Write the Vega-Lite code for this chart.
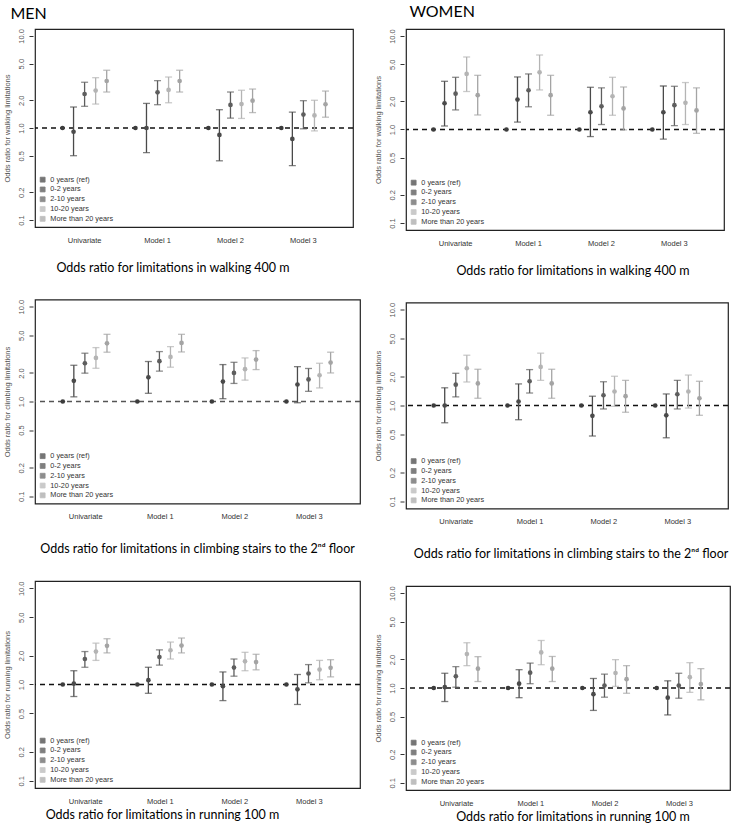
{
  "$schema": "https://vega.github.io/schema/vega-lite/v6.json",
  "padding": {"left": 2, "top": 4, "right": 0, "bottom": 0},
  "datasets": {
    "d": [
      {"s":"Men","o":"walk","m":"Univariate","g":"0 years (ref)","or":1,"lo":null,"hi":null},
      {"s":"Men","o":"walk","m":"Univariate","g":"0-2 years","or":0.91,"lo":0.50,"hi":1.69},
      {"s":"Men","o":"walk","m":"Univariate","g":"2-10 years","or":2.34,"lo":1.72,"hi":3.14},
      {"s":"Men","o":"walk","m":"Univariate","g":"10-20 years","or":2.55,"lo":1.82,"hi":3.52},
      {"s":"Men","o":"walk","m":"Univariate","g":"More than 20 years","or":3.24,"lo":2.46,"hi":4.24},
      {"s":"Men","o":"walk","m":"Model 1","g":"0 years (ref)","or":1,"lo":null,"hi":null},
      {"s":"Men","o":"walk","m":"Model 1","g":"0-2 years","or":1.0,"lo":0.54,"hi":1.85},
      {"s":"Men","o":"walk","m":"Model 1","g":"2-10 years","or":2.44,"lo":1.79,"hi":3.27},
      {"s":"Men","o":"walk","m":"Model 1","g":"10-20 years","or":2.59,"lo":1.88,"hi":3.58},
      {"s":"Men","o":"walk","m":"Model 1","g":"More than 20 years","or":3.24,"lo":2.46,"hi":4.24},
      {"s":"Men","o":"walk","m":"Model 2","g":"0 years (ref)","or":1,"lo":null,"hi":null},
      {"s":"Men","o":"walk","m":"Model 2","g":"0-2 years","or":0.84,"lo":0.44,"hi":1.58},
      {"s":"Men","o":"walk","m":"Model 2","g":"2-10 years","or":1.78,"lo":1.28,"hi":2.46},
      {"s":"Men","o":"walk","m":"Model 2","g":"10-20 years","or":1.82,"lo":1.27,"hi":2.57},
      {"s":"Men","o":"walk","m":"Model 2","g":"More than 20 years","or":1.98,"lo":1.47,"hi":2.65},
      {"s":"Men","o":"walk","m":"Model 3","g":"0 years (ref)","or":1,"lo":null,"hi":null},
      {"s":"Men","o":"walk","m":"Model 3","g":"0-2 years","or":0.76,"lo":0.39,"hi":1.49},
      {"s":"Men","o":"walk","m":"Model 3","g":"2-10 years","or":1.40,"lo":0.98,"hi":1.98},
      {"s":"Men","o":"walk","m":"Model 3","g":"10-20 years","or":1.37,"lo":0.93,"hi":2.0},
      {"s":"Men","o":"walk","m":"Model 3","g":"More than 20 years","or":1.81,"lo":1.31,"hi":2.52},

      {"s":"Women","o":"walk","m":"Univariate","g":"0 years (ref)","or":1,"lo":null,"hi":null},
      {"s":"Women","o":"walk","m":"Univariate","g":"0-2 years","or":1.91,"lo":1.09,"hi":3.28},
      {"s":"Women","o":"walk","m":"Univariate","g":"2-10 years","or":2.42,"lo":1.62,"hi":3.62},
      {"s":"Women","o":"walk","m":"Univariate","g":"10-20 years","or":3.93,"lo":2.55,"hi":5.97},
      {"s":"Women","o":"walk","m":"Univariate","g":"More than 20 years","or":2.33,"lo":1.43,"hi":3.80},
      {"s":"Women","o":"walk","m":"Model 1","g":"0 years (ref)","or":1,"lo":null,"hi":null},
      {"s":"Women","o":"walk","m":"Model 1","g":"0-2 years","or":2.09,"lo":1.20,"hi":3.65},
      {"s":"Women","o":"walk","m":"Model 1","g":"2-10 years","or":2.63,"lo":1.75,"hi":3.93},
      {"s":"Women","o":"walk","m":"Model 1","g":"10-20 years","or":4.09,"lo":2.65,"hi":6.27},
      {"s":"Women","o":"walk","m":"Model 1","g":"More than 20 years","or":2.33,"lo":1.42,"hi":3.80},
      {"s":"Women","o":"walk","m":"Model 2","g":"0 years (ref)","or":1,"lo":null,"hi":null},
      {"s":"Women","o":"walk","m":"Model 2","g":"0-2 years","or":1.53,"lo":0.84,"hi":2.83},
      {"s":"Women","o":"walk","m":"Model 2","g":"2-10 years","or":1.77,"lo":1.13,"hi":2.79},
      {"s":"Women","o":"walk","m":"Model 2","g":"10-20 years","or":2.27,"lo":1.42,"hi":3.62},
      {"s":"Women","o":"walk","m":"Model 2","g":"More than 20 years","or":1.68,"lo":0.99,"hi":2.85},
      {"s":"Women","o":"walk","m":"Model 3","g":"0 years (ref)","or":1,"lo":null,"hi":null},
      {"s":"Women","o":"walk","m":"Model 3","g":"0-2 years","or":1.53,"lo":0.79,"hi":2.92},
      {"s":"Women","o":"walk","m":"Model 3","g":"2-10 years","or":1.82,"lo":1.10,"hi":2.90},
      {"s":"Women","o":"walk","m":"Model 3","g":"10-20 years","or":1.93,"lo":1.13,"hi":3.18},
      {"s":"Women","o":"walk","m":"Model 3","g":"More than 20 years","or":1.60,"lo":0.91,"hi":2.79},

      {"s":"Men","o":"climb","m":"Univariate","g":"0 years (ref)","or":1,"lo":null,"hi":null},
      {"s":"Men","o":"climb","m":"Univariate","g":"0-2 years","or":1.65,"lo":1.12,"hi":2.41},
      {"s":"Men","o":"climb","m":"Univariate","g":"2-10 years","or":2.53,"lo":1.99,"hi":3.23},
      {"s":"Men","o":"climb","m":"Univariate","g":"10-20 years","or":2.88,"lo":2.24,"hi":3.70},
      {"s":"Men","o":"climb","m":"Univariate","g":"More than 20 years","or":4.11,"lo":3.31,"hi":5.11},
      {"s":"Men","o":"climb","m":"Model 1","g":"0 years (ref)","or":1,"lo":null,"hi":null},
      {"s":"Men","o":"climb","m":"Model 1","g":"0-2 years","or":1.80,"lo":1.22,"hi":2.64},
      {"s":"Men","o":"climb","m":"Model 1","g":"2-10 years","or":2.66,"lo":2.09,"hi":3.36},
      {"s":"Men","o":"climb","m":"Model 1","g":"10-20 years","or":2.95,"lo":2.30,"hi":3.79},
      {"s":"Men","o":"climb","m":"Model 1","g":"More than 20 years","or":4.15,"lo":3.33,"hi":5.11},
      {"s":"Men","o":"climb","m":"Model 2","g":"0 years (ref)","or":1,"lo":null,"hi":null},
      {"s":"Men","o":"climb","m":"Model 2","g":"0-2 years","or":1.62,"lo":1.07,"hi":2.45},
      {"s":"Men","o":"climb","m":"Model 2","g":"2-10 years","or":2.00,"lo":1.55,"hi":2.59},
      {"s":"Men","o":"climb","m":"Model 2","g":"10-20 years","or":2.19,"lo":1.68,"hi":2.88},
      {"s":"Men","o":"climb","m":"Model 2","g":"More than 20 years","or":2.77,"lo":2.17,"hi":3.44},
      {"s":"Men","o":"climb","m":"Model 3","g":"0 years (ref)","or":1,"lo":null,"hi":null},
      {"s":"Men","o":"climb","m":"Model 3","g":"0-2 years","or":1.51,"lo":0.97,"hi":2.33},
      {"s":"Men","o":"climb","m":"Model 3","g":"2-10 years","or":1.71,"lo":1.28,"hi":2.23},
      {"s":"Men","o":"climb","m":"Model 3","g":"10-20 years","or":1.89,"lo":1.39,"hi":2.53},
      {"s":"Men","o":"climb","m":"Model 3","g":"More than 20 years","or":2.57,"lo":2.00,"hi":3.31},

      {"s":"Women","o":"climb","m":"Univariate","g":"0 years (ref)","or":1,"lo":null,"hi":null},
      {"s":"Women","o":"climb","m":"Univariate","g":"0-2 years","or":1.0,"lo":0.66,"hi":1.53},
      {"s":"Women","o":"climb","m":"Univariate","g":"2-10 years","or":1.65,"lo":1.23,"hi":2.17},
      {"s":"Women","o":"climb","m":"Univariate","g":"10-20 years","or":2.45,"lo":1.76,"hi":3.35},
      {"s":"Women","o":"climb","m":"Univariate","g":"More than 20 years","or":1.70,"lo":1.19,"hi":2.39},
      {"s":"Women","o":"climb","m":"Model 1","g":"0 years (ref)","or":1,"lo":null,"hi":null},
      {"s":"Women","o":"climb","m":"Model 1","g":"0-2 years","or":1.10,"lo":0.71,"hi":1.68},
      {"s":"Women","o":"climb","m":"Model 1","g":"2-10 years","or":1.79,"lo":1.35,"hi":2.37},
      {"s":"Women","o":"climb","m":"Model 1","g":"10-20 years","or":2.53,"lo":1.83,"hi":3.52},
      {"s":"Women","o":"climb","m":"Model 1","g":"More than 20 years","or":1.70,"lo":1.19,"hi":2.39},
      {"s":"Women","o":"climb","m":"Model 2","g":"0 years (ref)","or":1,"lo":null,"hi":null},
      {"s":"Women","o":"climb","m":"Model 2","g":"0-2 years","or":0.78,"lo":0.48,"hi":1.25},
      {"s":"Women","o":"climb","m":"Model 2","g":"2-10 years","or":1.28,"lo":0.92,"hi":1.77},
      {"s":"Women","o":"climb","m":"Model 2","g":"10-20 years","or":1.40,"lo":0.98,"hi":2.02},
      {"s":"Women","o":"climb","m":"Model 2","g":"More than 20 years","or":1.25,"lo":0.85,"hi":1.83},
      {"s":"Women","o":"climb","m":"Model 3","g":"0 years (ref)","or":1,"lo":null,"hi":null},
      {"s":"Women","o":"climb","m":"Model 3","g":"0-2 years","or":0.79,"lo":0.46,"hi":1.32},
      {"s":"Women","o":"climb","m":"Model 3","g":"2-10 years","or":1.31,"lo":0.92,"hi":1.83},
      {"s":"Women","o":"climb","m":"Model 3","g":"10-20 years","or":1.40,"lo":0.94,"hi":2.08},
      {"s":"Women","o":"climb","m":"Model 3","g":"More than 20 years","or":1.19,"lo":0.79,"hi":1.79},

      {"s":"Men","o":"run","m":"Univariate","g":"0 years (ref)","or":1,"lo":null,"hi":null},
      {"s":"Men","o":"run","m":"Univariate","g":"0-2 years","or":1.02,"lo":0.75,"hi":1.39},
      {"s":"Men","o":"run","m":"Univariate","g":"2-10 years","or":1.84,"lo":1.51,"hi":2.20},
      {"s":"Men","o":"run","m":"Univariate","g":"10-20 years","or":2.20,"lo":1.78,"hi":2.69},
      {"s":"Men","o":"run","m":"Univariate","g":"More than 20 years","or":2.52,"lo":2.13,"hi":2.99},
      {"s":"Men","o":"run","m":"Model 1","g":"0 years (ref)","or":1,"lo":null,"hi":null},
      {"s":"Men","o":"run","m":"Model 1","g":"0-2 years","or":1.11,"lo":0.81,"hi":1.51},
      {"s":"Men","o":"run","m":"Model 1","g":"2-10 years","or":1.93,"lo":1.59,"hi":2.29},
      {"s":"Men","o":"run","m":"Model 1","g":"10-20 years","or":2.27,"lo":1.84,"hi":2.76},
      {"s":"Men","o":"run","m":"Model 1","g":"More than 20 years","or":2.54,"lo":2.13,"hi":3.04},
      {"s":"Men","o":"run","m":"Model 2","g":"0 years (ref)","or":1,"lo":null,"hi":null},
      {"s":"Men","o":"run","m":"Model 2","g":"0-2 years","or":0.96,"lo":0.68,"hi":1.35},
      {"s":"Men","o":"run","m":"Model 2","g":"2-10 years","or":1.50,"lo":1.22,"hi":1.84},
      {"s":"Men","o":"run","m":"Model 2","g":"10-20 years","or":1.74,"lo":1.39,"hi":2.16},
      {"s":"Men","o":"run","m":"Model 2","g":"More than 20 years","or":1.71,"lo":1.42,"hi":2.06},
      {"s":"Men","o":"run","m":"Model 3","g":"0 years (ref)","or":1,"lo":null,"hi":null},
      {"s":"Men","o":"run","m":"Model 3","g":"0-2 years","or":0.89,"lo":0.62,"hi":1.27},
      {"s":"Men","o":"run","m":"Model 3","g":"2-10 years","or":1.30,"lo":1.04,"hi":1.61},
      {"s":"Men","o":"run","m":"Model 3","g":"10-20 years","or":1.43,"lo":1.12,"hi":1.78},
      {"s":"Men","o":"run","m":"Model 3","g":"More than 20 years","or":1.49,"lo":1.20,"hi":1.81},

      {"s":"Women","o":"run","m":"Univariate","g":"0 years (ref)","or":1,"lo":null,"hi":null},
      {"s":"Women","o":"run","m":"Univariate","g":"0-2 years","or":1.02,"lo":0.72,"hi":1.43},
      {"s":"Women","o":"run","m":"Univariate","g":"2-10 years","or":1.33,"lo":1.02,"hi":1.68},
      {"s":"Women","o":"run","m":"Univariate","g":"10-20 years","or":2.28,"lo":1.72,"hi":3.00},
      {"s":"Women","o":"run","m":"Univariate","g":"More than 20 years","or":1.60,"lo":1.17,"hi":2.14},
      {"s":"Women","o":"run","m":"Model 1","g":"0 years (ref)","or":1,"lo":null,"hi":null},
      {"s":"Women","o":"run","m":"Model 1","g":"0-2 years","or":1.11,"lo":0.79,"hi":1.56},
      {"s":"Women","o":"run","m":"Model 1","g":"2-10 years","or":1.45,"lo":1.11,"hi":1.83},
      {"s":"Women","o":"run","m":"Model 1","g":"10-20 years","or":2.37,"lo":1.76,"hi":3.17},
      {"s":"Women","o":"run","m":"Model 1","g":"More than 20 years","or":1.60,"lo":1.17,"hi":2.15},
      {"s":"Women","o":"run","m":"Model 2","g":"0 years (ref)","or":1,"lo":null,"hi":null},
      {"s":"Women","o":"run","m":"Model 2","g":"0-2 years","or":0.86,"lo":0.58,"hi":1.26},
      {"s":"Women","o":"run","m":"Model 2","g":"2-10 years","or":1.06,"lo":0.80,"hi":1.40},
      {"s":"Women","o":"run","m":"Model 2","g":"10-20 years","or":1.44,"lo":1.04,"hi":1.99},
      {"s":"Women","o":"run","m":"Model 2","g":"More than 20 years","or":1.24,"lo":0.88,"hi":1.72},
      {"s":"Women","o":"run","m":"Model 3","g":"0 years (ref)","or":1,"lo":null,"hi":null},
      {"s":"Women","o":"run","m":"Model 3","g":"0-2 years","or":0.79,"lo":0.52,"hi":1.19},
      {"s":"Women","o":"run","m":"Model 3","g":"2-10 years","or":1.06,"lo":0.78,"hi":1.43},
      {"s":"Women","o":"run","m":"Model 3","g":"10-20 years","or":1.30,"lo":0.90,"hi":1.85},
      {"s":"Women","o":"run","m":"Model 3","g":"More than 20 years","or":1.10,"lo":0.75,"hi":1.60}
    ]
  },
  "hconcat": [
    {
      "title": {"text": "MEN", "orient": "top", "anchor": "start", "fontSize": 16, "offset": 6, "dx": 8},
      "spacing": 23.5,
      "resolve": {"scale": {"color": "independent"}},
      "vconcat": [
        {
          "width": 318, "height": 198,
          "title": {"text": "Odds ratio for limitations in walking 400 m", "dx": -21, "offset": 18},
          "encoding": {"y": {"field": "or", "type": "quantitative", "title": "Odds ratio for walking limitations", "scale": {"type": "log", "domain": [0.084, 11.9], "nice": false}, "axis": {"values": [0.1, 0.2, 0.5, 1, 2, 5, 10], "format": ".1f"}}},
          "layer": [
            {"data": {"values": [{"or": 1}]}, "mark": {"type": "rule", "strokeDash": [5, 4], "strokeWidth": 1.4, "color": "#111"}},
            {"data": {"name": "d"}, "transform": [{"filter": "datum.s=='Men' && datum.o=='walk' && datum.lo != null"}], "mark": {"type": "rule", "strokeWidth": 1.3},
             "encoding": {"x": {"field": "m", "type": "nominal", "sort": ["Univariate", "Model 1", "Model 2", "Model 3"], "title": null, "scale": {"type": "band", "paddingInner": 0, "paddingOuter": 0.18}}, "xOffset": {"field": "g", "type": "nominal", "scale": {"type": "band", "domain": ["0 years (ref)", "0-2 years", "2-10 years", "10-20 years", "More than 20 years"], "paddingInner": 0, "paddingOuter": 0.8}}, "color": {"field": "g", "type": "nominal", "scale": {"domain": ["0 years (ref)", "0-2 years", "2-10 years", "10-20 years", "More than 20 years"], "range": ["#3c3c3c", "#4a4a4a", "#5e5e5e", "#b4b4b4", "#a4a4a4"]}}, "y": {"field": "lo", "type": "quantitative", "title": "Odds ratio for walking limitations"}, "y2": {"field": "hi"}}},
            {"data": {"name": "d"}, "transform": [{"filter": "datum.s=='Men' && datum.o=='walk' && datum.lo != null"}], "mark": {"type": "tick", "thickness": 1.3, "size": 7},
             "encoding": {"x": {"field": "m", "type": "nominal", "sort": ["Univariate", "Model 1", "Model 2", "Model 3"], "title": null, "scale": {"type": "band", "paddingInner": 0, "paddingOuter": 0.18}}, "xOffset": {"field": "g", "type": "nominal", "scale": {"type": "band", "domain": ["0 years (ref)", "0-2 years", "2-10 years", "10-20 years", "More than 20 years"], "paddingInner": 0, "paddingOuter": 0.8}}, "color": {"field": "g", "type": "nominal"}, "y": {"field": "lo", "type": "quantitative", "title": "Odds ratio for walking limitations"}}},
            {"data": {"name": "d"}, "transform": [{"filter": "datum.s=='Men' && datum.o=='walk' && datum.lo != null"}], "mark": {"type": "tick", "thickness": 1.3, "size": 7},
             "encoding": {"x": {"field": "m", "type": "nominal", "sort": ["Univariate", "Model 1", "Model 2", "Model 3"], "title": null, "scale": {"type": "band", "paddingInner": 0, "paddingOuter": 0.18}}, "xOffset": {"field": "g", "type": "nominal", "scale": {"type": "band", "domain": ["0 years (ref)", "0-2 years", "2-10 years", "10-20 years", "More than 20 years"], "paddingInner": 0, "paddingOuter": 0.8}}, "color": {"field": "g", "type": "nominal"}, "y": {"field": "hi", "type": "quantitative", "title": "Odds ratio for walking limitations"}}},
            {"data": {"name": "d"}, "transform": [{"filter": "datum.s=='Men' && datum.o=='walk'"}], "mark": {"type": "point", "filled": true, "size": 22, "opacity": 1},
             "encoding": {"x": {"field": "m", "type": "nominal", "sort": ["Univariate", "Model 1", "Model 2", "Model 3"], "title": null, "scale": {"type": "band", "paddingInner": 0, "paddingOuter": 0.18}}, "xOffset": {"field": "g", "type": "nominal", "scale": {"type": "band", "domain": ["0 years (ref)", "0-2 years", "2-10 years", "10-20 years", "More than 20 years"], "paddingInner": 0, "paddingOuter": 0.8}}, "color": {"field": "g", "type": "nominal"}}}
          ]
        },
        {
          "width": 325, "height": 204,
          "title": {"text": "Odds ratio for limitations in climbing stairs to the 2ⁿᵈ floor", "dx": 0, "offset": 23},
          "encoding": {"y": {"field": "or", "type": "quantitative", "title": "Odds ratio for climbing limitations", "scale": {"type": "log", "domain": [0.084, 11.9], "nice": false}, "axis": {"values": [0.1, 0.2, 0.5, 1, 2, 5, 10], "format": ".1f"}}},
          "layer": [
            {"data": {"values": [{"or": 1}]}, "mark": {"type": "rule", "strokeDash": [5, 4], "strokeWidth": 1.4, "color": "#555"}},
            {"data": {"name": "d"}, "transform": [{"filter": "datum.s=='Men' && datum.o=='climb' && datum.lo != null"}], "mark": {"type": "rule", "strokeWidth": 1.3},
             "encoding": {"x": {"field": "m", "type": "nominal", "sort": ["Univariate", "Model 1", "Model 2", "Model 3"], "title": null, "scale": {"type": "band", "paddingInner": 0, "paddingOuter": 0.18}}, "xOffset": {"field": "g", "type": "nominal", "scale": {"type": "band", "domain": ["0 years (ref)", "0-2 years", "2-10 years", "10-20 years", "More than 20 years"], "paddingInner": 0, "paddingOuter": 0.8}}, "color": {"field": "g", "type": "nominal", "scale": {"domain": ["0 years (ref)", "0-2 years", "2-10 years", "10-20 years", "More than 20 years"], "range": ["#3c3c3c", "#4a4a4a", "#5e5e5e", "#b4b4b4", "#a4a4a4"]}}, "y": {"field": "lo", "type": "quantitative", "title": "Odds ratio for climbing limitations"}, "y2": {"field": "hi"}}},
            {"data": {"name": "d"}, "transform": [{"filter": "datum.s=='Men' && datum.o=='climb' && datum.lo != null"}], "mark": {"type": "tick", "thickness": 1.3, "size": 7},
             "encoding": {"x": {"field": "m", "type": "nominal", "sort": ["Univariate", "Model 1", "Model 2", "Model 3"], "title": null, "scale": {"type": "band", "paddingInner": 0, "paddingOuter": 0.18}}, "xOffset": {"field": "g", "type": "nominal", "scale": {"type": "band", "domain": ["0 years (ref)", "0-2 years", "2-10 years", "10-20 years", "More than 20 years"], "paddingInner": 0, "paddingOuter": 0.8}}, "color": {"field": "g", "type": "nominal"}, "y": {"field": "lo", "type": "quantitative", "title": "Odds ratio for climbing limitations"}}},
            {"data": {"name": "d"}, "transform": [{"filter": "datum.s=='Men' && datum.o=='climb' && datum.lo != null"}], "mark": {"type": "tick", "thickness": 1.3, "size": 7},
             "encoding": {"x": {"field": "m", "type": "nominal", "sort": ["Univariate", "Model 1", "Model 2", "Model 3"], "title": null, "scale": {"type": "band", "paddingInner": 0, "paddingOuter": 0.18}}, "xOffset": {"field": "g", "type": "nominal", "scale": {"type": "band", "domain": ["0 years (ref)", "0-2 years", "2-10 years", "10-20 years", "More than 20 years"], "paddingInner": 0, "paddingOuter": 0.8}}, "color": {"field": "g", "type": "nominal"}, "y": {"field": "hi", "type": "quantitative", "title": "Odds ratio for climbing limitations"}}},
            {"data": {"name": "d"}, "transform": [{"filter": "datum.s=='Men' && datum.o=='climb'"}], "mark": {"type": "point", "filled": true, "size": 22, "opacity": 1},
             "encoding": {"x": {"field": "m", "type": "nominal", "sort": ["Univariate", "Model 1", "Model 2", "Model 3"], "title": null, "scale": {"type": "band", "paddingInner": 0, "paddingOuter": 0.18}}, "xOffset": {"field": "g", "type": "nominal", "scale": {"type": "band", "domain": ["0 years (ref)", "0-2 years", "2-10 years", "10-20 years", "More than 20 years"], "paddingInner": 0, "paddingOuter": 0.8}}, "color": {"field": "g", "type": "nominal"}}}
          ]
        },
        {
          "width": 325, "height": 207,
          "title": {"text": "Odds ratio for limitations in running 100 m", "dx": -35, "offset": 4},
          "encoding": {"y": {"field": "or", "type": "quantitative", "title": "Odds ratio for running limitations", "scale": {"type": "log", "domain": [0.084, 11.9], "nice": false}, "axis": {"values": [0.1, 0.2, 0.5, 1, 2, 5, 10], "format": ".1f"}}},
          "layer": [
            {"data": {"values": [{"or": 1}]}, "mark": {"type": "rule", "strokeDash": [5, 4], "strokeWidth": 1.4, "color": "#111"}},
            {"data": {"name": "d"}, "transform": [{"filter": "datum.s=='Men' && datum.o=='run' && datum.lo != null"}], "mark": {"type": "rule", "strokeWidth": 1.3},
             "encoding": {"x": {"field": "m", "type": "nominal", "sort": ["Univariate", "Model 1", "Model 2", "Model 3"], "title": null, "scale": {"type": "band", "paddingInner": 0, "paddingOuter": 0.18}}, "xOffset": {"field": "g", "type": "nominal", "scale": {"type": "band", "domain": ["0 years (ref)", "0-2 years", "2-10 years", "10-20 years", "More than 20 years"], "paddingInner": 0, "paddingOuter": 0.8}}, "color": {"field": "g", "type": "nominal", "scale": {"domain": ["0 years (ref)", "0-2 years", "2-10 years", "10-20 years", "More than 20 years"], "range": ["#3c3c3c", "#4a4a4a", "#5e5e5e", "#b4b4b4", "#a4a4a4"]}}, "y": {"field": "lo", "type": "quantitative", "title": "Odds ratio for running limitations"}, "y2": {"field": "hi"}}},
            {"data": {"name": "d"}, "transform": [{"filter": "datum.s=='Men' && datum.o=='run' && datum.lo != null"}], "mark": {"type": "tick", "thickness": 1.3, "size": 7},
             "encoding": {"x": {"field": "m", "type": "nominal", "sort": ["Univariate", "Model 1", "Model 2", "Model 3"], "title": null, "scale": {"type": "band", "paddingInner": 0, "paddingOuter": 0.18}}, "xOffset": {"field": "g", "type": "nominal", "scale": {"type": "band", "domain": ["0 years (ref)", "0-2 years", "2-10 years", "10-20 years", "More than 20 years"], "paddingInner": 0, "paddingOuter": 0.8}}, "color": {"field": "g", "type": "nominal"}, "y": {"field": "lo", "type": "quantitative", "title": "Odds ratio for running limitations"}}},
            {"data": {"name": "d"}, "transform": [{"filter": "datum.s=='Men' && datum.o=='run' && datum.lo != null"}], "mark": {"type": "tick", "thickness": 1.3, "size": 7},
             "encoding": {"x": {"field": "m", "type": "nominal", "sort": ["Univariate", "Model 1", "Model 2", "Model 3"], "title": null, "scale": {"type": "band", "paddingInner": 0, "paddingOuter": 0.18}}, "xOffset": {"field": "g", "type": "nominal", "scale": {"type": "band", "domain": ["0 years (ref)", "0-2 years", "2-10 years", "10-20 years", "More than 20 years"], "paddingInner": 0, "paddingOuter": 0.8}}, "color": {"field": "g", "type": "nominal"}, "y": {"field": "hi", "type": "quantitative", "title": "Odds ratio for running limitations"}}},
            {"data": {"name": "d"}, "transform": [{"filter": "datum.s=='Men' && datum.o=='run'"}], "mark": {"type": "point", "filled": true, "size": 22, "opacity": 1},
             "encoding": {"x": {"field": "m", "type": "nominal", "sort": ["Univariate", "Model 1", "Model 2", "Model 3"], "title": null, "scale": {"type": "band", "paddingInner": 0, "paddingOuter": 0.18}}, "xOffset": {"field": "g", "type": "nominal", "scale": {"type": "band", "domain": ["0 years (ref)", "0-2 years", "2-10 years", "10-20 years", "More than 20 years"], "paddingInner": 0, "paddingOuter": 0.8}}, "color": {"field": "g", "type": "nominal"}}}
          ]
        }
      ]
    },
    {
      "title": {"text": "WOMEN", "orient": "top", "anchor": "start", "fontSize": 16, "offset": 8, "dx": 36},
      "spacing": 23.5,
      "resolve": {"scale": {"color": "independent"}},
      "vconcat": [
        {
          "width": 318, "height": 201,
          "title": {"text": "Odds ratio for limitations in walking 400 m", "dx": 8, "offset": 18},
          "encoding": {"y": {"field": "or", "type": "quantitative", "title": "Odds ratio for walking limitations", "scale": {"type": "log", "domain": [0.084, 11.9], "nice": false}, "axis": {"values": [0.1, 0.2, 0.5, 1, 2, 5, 10], "format": ".1f"}}},
          "layer": [
            {"data": {"values": [{"or": 1}]}, "mark": {"type": "rule", "strokeDash": [5, 4], "strokeWidth": 1.4, "color": "#111"}},
            {"data": {"name": "d"}, "transform": [{"filter": "datum.s=='Women' && datum.o=='walk' && datum.lo != null"}], "mark": {"type": "rule", "strokeWidth": 1.3},
             "encoding": {"x": {"field": "m", "type": "nominal", "sort": ["Univariate", "Model 1", "Model 2", "Model 3"], "title": null, "scale": {"type": "band", "paddingInner": 0, "paddingOuter": 0.18}}, "xOffset": {"field": "g", "type": "nominal", "scale": {"type": "band", "domain": ["0 years (ref)", "0-2 years", "2-10 years", "10-20 years", "More than 20 years"], "paddingInner": 0, "paddingOuter": 0.8}}, "color": {"field": "g", "type": "nominal", "scale": {"domain": ["0 years (ref)", "0-2 years", "2-10 years", "10-20 years", "More than 20 years"], "range": ["#3c3c3c", "#4a4a4a", "#5e5e5e", "#b4b4b4", "#a4a4a4"]}}, "y": {"field": "lo", "type": "quantitative", "title": "Odds ratio for walking limitations"}, "y2": {"field": "hi"}}},
            {"data": {"name": "d"}, "transform": [{"filter": "datum.s=='Women' && datum.o=='walk' && datum.lo != null"}], "mark": {"type": "tick", "thickness": 1.3, "size": 7},
             "encoding": {"x": {"field": "m", "type": "nominal", "sort": ["Univariate", "Model 1", "Model 2", "Model 3"], "title": null, "scale": {"type": "band", "paddingInner": 0, "paddingOuter": 0.18}}, "xOffset": {"field": "g", "type": "nominal", "scale": {"type": "band", "domain": ["0 years (ref)", "0-2 years", "2-10 years", "10-20 years", "More than 20 years"], "paddingInner": 0, "paddingOuter": 0.8}}, "color": {"field": "g", "type": "nominal"}, "y": {"field": "lo", "type": "quantitative", "title": "Odds ratio for walking limitations"}}},
            {"data": {"name": "d"}, "transform": [{"filter": "datum.s=='Women' && datum.o=='walk' && datum.lo != null"}], "mark": {"type": "tick", "thickness": 1.3, "size": 7},
             "encoding": {"x": {"field": "m", "type": "nominal", "sort": ["Univariate", "Model 1", "Model 2", "Model 3"], "title": null, "scale": {"type": "band", "paddingInner": 0, "paddingOuter": 0.18}}, "xOffset": {"field": "g", "type": "nominal", "scale": {"type": "band", "domain": ["0 years (ref)", "0-2 years", "2-10 years", "10-20 years", "More than 20 years"], "paddingInner": 0, "paddingOuter": 0.8}}, "color": {"field": "g", "type": "nominal"}, "y": {"field": "hi", "type": "quantitative", "title": "Odds ratio for walking limitations"}}},
            {"data": {"name": "d"}, "transform": [{"filter": "datum.s=='Women' && datum.o=='walk'"}], "mark": {"type": "point", "filled": true, "size": 22, "opacity": 1},
             "encoding": {"x": {"field": "m", "type": "nominal", "sort": ["Univariate", "Model 1", "Model 2", "Model 3"], "title": null, "scale": {"type": "band", "paddingInner": 0, "paddingOuter": 0.18}}, "xOffset": {"field": "g", "type": "nominal", "scale": {"type": "band", "domain": ["0 years (ref)", "0-2 years", "2-10 years", "10-20 years", "More than 20 years"], "paddingInner": 0, "paddingOuter": 0.8}}, "color": {"field": "g", "type": "nominal"}}}
          ]
        },
        {
          "width": 322, "height": 206,
          "title": {"text": "Odds ratio for limitations in climbing stairs to the 2ⁿᵈ floor", "dx": 4, "offset": 23},
          "encoding": {"y": {"field": "or", "type": "quantitative", "title": "Odds ratio for climbing limitations", "scale": {"type": "log", "domain": [0.084, 11.9], "nice": false}, "axis": {"values": [0.1, 0.2, 0.5, 1, 2, 5, 10], "format": ".1f"}}},
          "layer": [
            {"data": {"values": [{"or": 1}]}, "mark": {"type": "rule", "strokeDash": [5, 4], "strokeWidth": 1.4, "color": "#111"}},
            {"data": {"name": "d"}, "transform": [{"filter": "datum.s=='Women' && datum.o=='climb' && datum.lo != null"}], "mark": {"type": "rule", "strokeWidth": 1.3},
             "encoding": {"x": {"field": "m", "type": "nominal", "sort": ["Univariate", "Model 1", "Model 2", "Model 3"], "title": null, "scale": {"type": "band", "paddingInner": 0, "paddingOuter": 0.18}}, "xOffset": {"field": "g", "type": "nominal", "scale": {"type": "band", "domain": ["0 years (ref)", "0-2 years", "2-10 years", "10-20 years", "More than 20 years"], "paddingInner": 0, "paddingOuter": 0.8}}, "color": {"field": "g", "type": "nominal", "scale": {"domain": ["0 years (ref)", "0-2 years", "2-10 years", "10-20 years", "More than 20 years"], "range": ["#3c3c3c", "#4a4a4a", "#5e5e5e", "#b4b4b4", "#a4a4a4"]}}, "y": {"field": "lo", "type": "quantitative", "title": "Odds ratio for climbing limitations"}, "y2": {"field": "hi"}}},
            {"data": {"name": "d"}, "transform": [{"filter": "datum.s=='Women' && datum.o=='climb' && datum.lo != null"}], "mark": {"type": "tick", "thickness": 1.3, "size": 7},
             "encoding": {"x": {"field": "m", "type": "nominal", "sort": ["Univariate", "Model 1", "Model 2", "Model 3"], "title": null, "scale": {"type": "band", "paddingInner": 0, "paddingOuter": 0.18}}, "xOffset": {"field": "g", "type": "nominal", "scale": {"type": "band", "domain": ["0 years (ref)", "0-2 years", "2-10 years", "10-20 years", "More than 20 years"], "paddingInner": 0, "paddingOuter": 0.8}}, "color": {"field": "g", "type": "nominal"}, "y": {"field": "lo", "type": "quantitative", "title": "Odds ratio for climbing limitations"}}},
            {"data": {"name": "d"}, "transform": [{"filter": "datum.s=='Women' && datum.o=='climb' && datum.lo != null"}], "mark": {"type": "tick", "thickness": 1.3, "size": 7},
             "encoding": {"x": {"field": "m", "type": "nominal", "sort": ["Univariate", "Model 1", "Model 2", "Model 3"], "title": null, "scale": {"type": "band", "paddingInner": 0, "paddingOuter": 0.18}}, "xOffset": {"field": "g", "type": "nominal", "scale": {"type": "band", "domain": ["0 years (ref)", "0-2 years", "2-10 years", "10-20 years", "More than 20 years"], "paddingInner": 0, "paddingOuter": 0.8}}, "color": {"field": "g", "type": "nominal"}, "y": {"field": "hi", "type": "quantitative", "title": "Odds ratio for climbing limitations"}}},
            {"data": {"name": "d"}, "transform": [{"filter": "datum.s=='Women' && datum.o=='climb'"}], "mark": {"type": "point", "filled": true, "size": 22, "opacity": 1},
             "encoding": {"x": {"field": "m", "type": "nominal", "sort": ["Univariate", "Model 1", "Model 2", "Model 3"], "title": null, "scale": {"type": "band", "paddingInner": 0, "paddingOuter": 0.18}}, "xOffset": {"field": "g", "type": "nominal", "scale": {"type": "band", "domain": ["0 years (ref)", "0-2 years", "2-10 years", "10-20 years", "More than 20 years"], "paddingInner": 0, "paddingOuter": 0.8}}, "color": {"field": "g", "type": "nominal"}}}
          ]
        },
        {
          "width": 324, "height": 204,
          "title": {"text": "Odds ratio for limitations in running 100 m", "dx": 5, "offset": 4},
          "encoding": {"y": {"field": "or", "type": "quantitative", "title": "Odds ratio for running limitations", "scale": {"type": "log", "domain": [0.084, 11.9], "nice": false}, "axis": {"values": [0.1, 0.2, 0.5, 1, 2, 5, 10], "format": ".1f"}}},
          "layer": [
            {"data": {"values": [{"or": 1}]}, "mark": {"type": "rule", "strokeDash": [5, 4], "strokeWidth": 1.4, "color": "#111"}},
            {"data": {"name": "d"}, "transform": [{"filter": "datum.s=='Women' && datum.o=='run' && datum.lo != null"}], "mark": {"type": "rule", "strokeWidth": 1.3},
             "encoding": {"x": {"field": "m", "type": "nominal", "sort": ["Univariate", "Model 1", "Model 2", "Model 3"], "title": null, "scale": {"type": "band", "paddingInner": 0, "paddingOuter": 0.18}}, "xOffset": {"field": "g", "type": "nominal", "scale": {"type": "band", "domain": ["0 years (ref)", "0-2 years", "2-10 years", "10-20 years", "More than 20 years"], "paddingInner": 0, "paddingOuter": 0.8}}, "color": {"field": "g", "type": "nominal", "scale": {"domain": ["0 years (ref)", "0-2 years", "2-10 years", "10-20 years", "More than 20 years"], "range": ["#3c3c3c", "#4a4a4a", "#5e5e5e", "#b4b4b4", "#a4a4a4"]}}, "y": {"field": "lo", "type": "quantitative", "title": "Odds ratio for running limitations"}, "y2": {"field": "hi"}}},
            {"data": {"name": "d"}, "transform": [{"filter": "datum.s=='Women' && datum.o=='run' && datum.lo != null"}], "mark": {"type": "tick", "thickness": 1.3, "size": 7},
             "encoding": {"x": {"field": "m", "type": "nominal", "sort": ["Univariate", "Model 1", "Model 2", "Model 3"], "title": null, "scale": {"type": "band", "paddingInner": 0, "paddingOuter": 0.18}}, "xOffset": {"field": "g", "type": "nominal", "scale": {"type": "band", "domain": ["0 years (ref)", "0-2 years", "2-10 years", "10-20 years", "More than 20 years"], "paddingInner": 0, "paddingOuter": 0.8}}, "color": {"field": "g", "type": "nominal"}, "y": {"field": "lo", "type": "quantitative", "title": "Odds ratio for running limitations"}}},
            {"data": {"name": "d"}, "transform": [{"filter": "datum.s=='Women' && datum.o=='run' && datum.lo != null"}], "mark": {"type": "tick", "thickness": 1.3, "size": 7},
             "encoding": {"x": {"field": "m", "type": "nominal", "sort": ["Univariate", "Model 1", "Model 2", "Model 3"], "title": null, "scale": {"type": "band", "paddingInner": 0, "paddingOuter": 0.18}}, "xOffset": {"field": "g", "type": "nominal", "scale": {"type": "band", "domain": ["0 years (ref)", "0-2 years", "2-10 years", "10-20 years", "More than 20 years"], "paddingInner": 0, "paddingOuter": 0.8}}, "color": {"field": "g", "type": "nominal"}, "y": {"field": "hi", "type": "quantitative", "title": "Odds ratio for running limitations"}}},
            {"data": {"name": "d"}, "transform": [{"filter": "datum.s=='Women' && datum.o=='run'"}], "mark": {"type": "point", "filled": true, "size": 22, "opacity": 1},
             "encoding": {"x": {"field": "m", "type": "nominal", "sort": ["Univariate", "Model 1", "Model 2", "Model 3"], "title": null, "scale": {"type": "band", "paddingInner": 0, "paddingOuter": 0.18}}, "xOffset": {"field": "g", "type": "nominal", "scale": {"type": "band", "domain": ["0 years (ref)", "0-2 years", "2-10 years", "10-20 years", "More than 20 years"], "paddingInner": 0, "paddingOuter": 0.8}}, "color": {"field": "g", "type": "nominal"}}}
          ]
        }
      ]
    }
  ],
  "spacing": 11,
  "resolve": {"scale": {"color": "independent"}},
  "config": {
    "font": "Liberation Sans",
    "view": {"stroke": "#222", "strokeWidth": 1.2},
    "axisX": {"labelAngle": 0, "ticks": false, "domain": false, "labelPadding": 9, "labelFontSize": 7.5, "labelColor": "#333", "grid": false},
    "axisY": {"labelAngle": -90, "labelFontSize": 7.5, "labelColor": "#555", "titleFontSize": 7.5, "titleFontWeight": "normal", "titleColor": "#555", "grid": false, "domain": false, "tickSize": 4, "tickColor": "#333", "labelPadding": 4, "titlePadding": 6, "offset": 2},
    "legend": {"orient": "bottom-left", "title": null, "symbolType": "square", "symbolSize": 24, "labelFontSize": 7.3, "labelColor": "#333", "rowPadding": 0.8, "offset": 4, "symbolStrokeColor": "#222", "symbolStrokeWidth": 0.8, "padding": 0},
    "title": {"orient": "bottom", "font": "Lato", "fontSize": 12.5, "fontWeight": "normal", "color": "#000"}
  }
}
